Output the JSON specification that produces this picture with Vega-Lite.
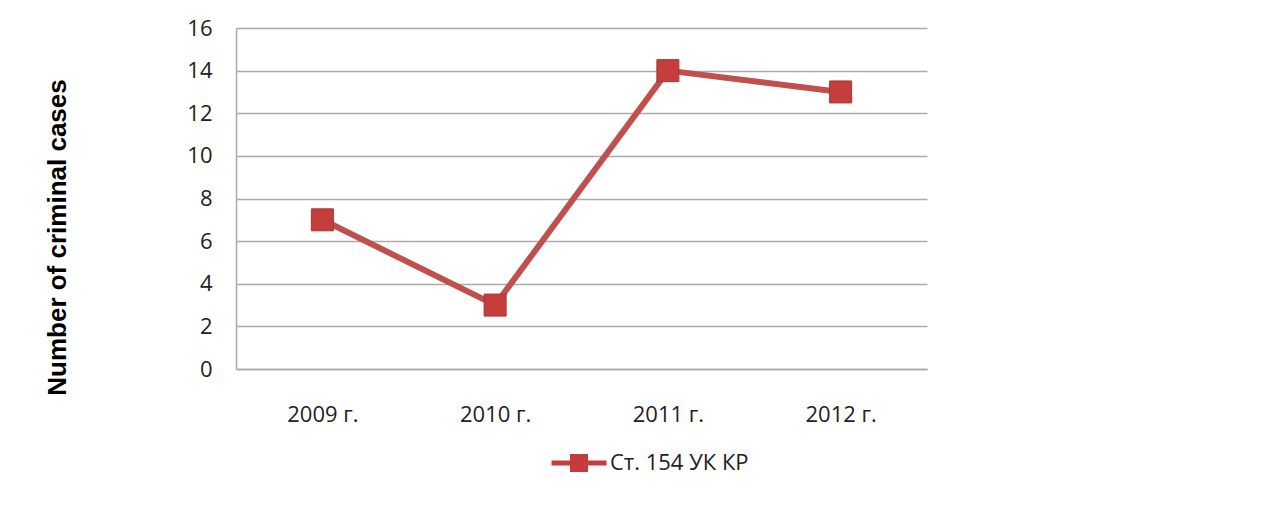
{
  "$schema": "https://vega.github.io/schema/vega-lite/v6.json",
  "autosize": "none",
  "width": 691,
  "height": 341,
  "padding": {"left": 236, "top": 28, "right": 349, "bottom": 136},
  "background": "white",
  "config": {
    "view": {"stroke": null},
    "font": "Open Sans"
  },
  "data": {
    "values": [
      {"year": "2009 г.", "cases": 7, "series": "Ст. 154 УК КР"},
      {"year": "2010 г.", "cases": 3, "series": "Ст. 154 УК КР"},
      {"year": "2011 г.", "cases": 14, "series": "Ст. 154 УК КР"},
      {"year": "2012 г.", "cases": 13, "series": "Ст. 154 УК КР"}
    ]
  },
  "encoding": {
    "x": {
      "field": "year",
      "type": "nominal",
      "sort": null,
      "scale": {"type": "point", "padding": 0.5},
      "axis": {
        "title": null,
        "labelAngle": 0,
        "labelFont": "Open Sans",
        "labelFontSize": 22,
        "labelColor": "#222222",
        "labelPadding": 35,
        "labelBaseline": "top",
        "ticks": false,
        "tickSize": 0,
        "domain": true,
        "domainColor": "#ABABAB",
        "domainWidth": 1.5,
        "grid": false
      }
    },
    "y": {
      "field": "cases",
      "type": "quantitative",
      "scale": {"domain": [0, 16], "nice": false, "zero": true},
      "axis": {
        "title": "Number of criminal cases",
        "titleFont": "Liberation Sans",
        "titleFontWeight": "bold",
        "titleFontSize": 26,
        "titleColor": "#000000",
        "titleAngle": -90,
        "titleX": -179,
        "titleY": 209,
        "titleAlign": "center",
        "titleBaseline": "middle",
        "values": [0, 2, 4, 6, 8, 10, 12, 14, 16],
        "labelFont": "Open Sans",
        "labelFontSize": 22,
        "labelColor": "#222222",
        "labelPadding": 24,
        "ticks": false,
        "tickSize": 0,
        "domain": true,
        "domainColor": "#ABABAB",
        "domainWidth": 1.5,
        "grid": true,
        "gridColor": "#ABABAB",
        "gridWidth": 1.5
      }
    }
  },
  "layer": [
    {
      "mark": {"type": "line", "strokeWidth": 6, "strokeCap": "butt", "strokeJoin": "miter"},
      "encoding": {
        "color": {
          "field": "series",
          "type": "nominal",
          "scale": {"range": ["#C0504D"]},
          "legend": {
            "title": null,
            "orient": "none",
            "legendX": 332,
            "legendY": 424,
            "padding": 0,
            "symbolType": "M-2.5,-0.23L2.5,-0.23L2.5,0.23L-2.5,0.23ZM-0.82,-0.82L0.82,-0.82L0.82,0.82L-0.82,0.82Z",
            "symbolSize": 484,
            "symbolFillColor": "#C43C3C",
            "symbolStrokeWidth": 0,
            "labelFont": "Open Sans",
            "labelFontSize": 22,
            "labelColor": "#222222",
            "labelOffset": 20,
            "labelLimit": 400,
            "encode": {
              "symbols": {
                "update": {
                  "fill": {"value": "#C43C3C"},
                  "stroke": {"value": "#C43C3C"},
                  "strokeWidth": {"value": 0}
                }
              }
            }
          }
        }
      }
    },
    {
      "mark": {
        "type": "point",
        "shape": "square",
        "filled": true,
        "size": 484,
        "fill": "#C63E3C",
        "stroke": "#A83434",
        "strokeWidth": 1,
        "opacity": 1
      }
    }
  ]
}
